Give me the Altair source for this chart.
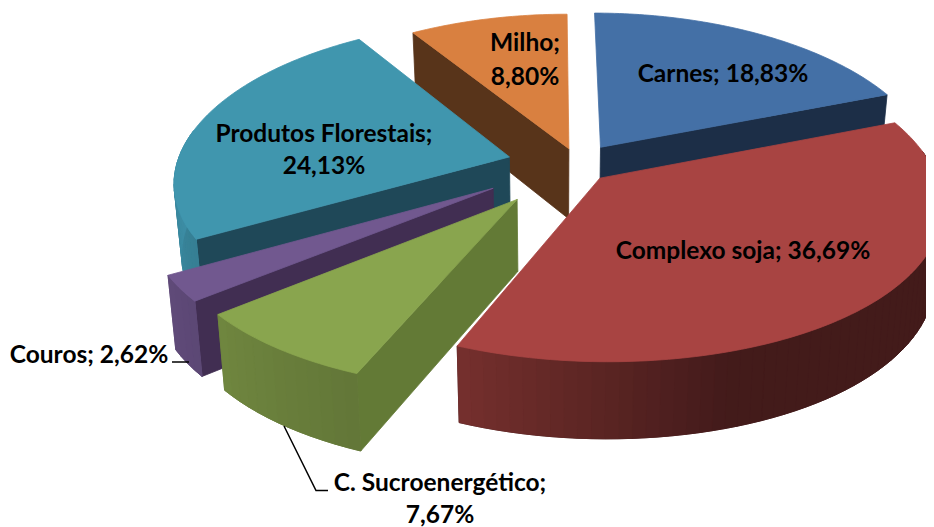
import math
import altair as alt

# ---- chart values ----
names = ["Carnes", "Complexo soja", "C. Sucroenergético", "Couros", "Produtos Florestais", "Milho"]
shares = [18.83, 36.69, 7.67, 2.62, 24.13, 8.80]
share_labels = ["18,83%", "36,69%", "7,67%", "2,62%", "24,13%", "8,80%"]
top_colors = ["#4470A6", "#A84442", "#89A54E", "#71588F", "#4096AE", "#D98040"]
radial_colors = ["#1C2E47", "#431B19", "#637A36", "#412E52", "#1F4858", "#58341A"]

# ---- 3D view of the pie ----
CX, CY = 547.0, 157.0      # vanishing centre in chart space
RX, RV = 333.0, 156.0      # horizontal / foreshortened radius
PERSP_X, PERSP_Y = 0.153, 0.13
DEPTH0, DEPTH1 = 70.6, 6.0
CONVERGE = 0.02
explode_x = [0.139, 0.133, -0.110, -0.1815, -0.138, 0.0424]
explode_f = [-0.115, 0.0835, 0.2146, 0.1463, -0.0523, -0.1055]
draw_order = [5, 0, 4, 3, 2, 1]


def rim(i, deg):
    t = math.radians(deg)
    return explode_x[i] + math.sin(t), explode_f[i] - math.cos(t)


def project(X, F):
    return [CX + RX * X / (1 - PERSP_X * F), CY + RV * F / (1 - PERSP_Y * F)]


def lower(X, F):
    x, y = project(X, F)
    return [x - (x - CX) * CONVERGE, y + DEPTH0 + DEPTH1 * F]


def shade(deg):
    if deg < 162:
        return 0.40
    if deg < 202:
        return 0.40 + (deg - 162) * 0.30 / 40
    return 0.72 + (deg - 202) * 0.23 / 68


def scaled(hex_color, f):
    rgb = [int(hex_color[j:j + 2], 16) for j in (1, 3, 5)]
    return "#%02x%02x%02x" % tuple(min(255, int(v * f)) for v in rgb)


def poly(points, color):
    ring = points + [points[0]]
    return {"type": "Feature", "properties": {"c": color},
            "geometry": {"type": "Polygon", "coordinates": [ring]}}


total = sum(shares)
starts, a = [], 0.0
for s in shares:
    starts.append(a)
    a += s / total * 360

features = []
for i in draw_order:
    t1 = starts[i]
    t2 = t1 + shares[i] / total * 360
    apex = (explode_x[i], explode_f[i])
    # radial wall facing the viewer
    wall = None
    if t1 >= 180:
        wall = t1
    elif t2 <= 180:
        wall = t2
    if wall is not None:
        R = rim(i, wall)
        features.append(poly([project(*apex), project(*R), lower(*R), lower(*apex)], radial_colors[i]))
    # outer wall: a base shape, then strips for the shading
    lo, hi = max(t1, 80), min(t2, 280)
    if hi > lo:
        n = max(2, int((hi - lo) / 2.0))
        angles = [lo + (hi - lo) * j / n for j in range(n + 1)]
        rims = [rim(i, v) for v in angles]
        base = [project(*r) for r in rims] + [lower(*r) for r in reversed(rims)]
        features.append(poly(base, scaled(top_colors[i], shade((lo + hi) / 2))))
        for j in range(n):
            P, Q = rims[j], rims[j + 1]
            features.append(poly([project(*P), project(*Q), lower(*Q), lower(*P)],
                                 scaled(top_colors[i], shade((angles[j] + angles[j + 1]) / 2))))
    # top face
    n = max(4, int((t2 - t1) / 1.0))
    arc = [project(*rim(i, t1 + (t2 - t1) * j / n)) for j in range(n + 1)]
    features.append(poly([project(*apex)] + arc, top_colors[i]))

proj = alt.Projection(type="identity", scale=1, translate=[0, 0])

pie = (
    alt.Chart(alt.Data(values=features))
    .mark_geoshape(strokeWidth=0.8)
    .encode(
        color=alt.Color("properties.c:N", scale=None, legend=None),
        stroke=alt.Stroke("properties.c:N", scale=None, legend=None),
    )
    .project(**proj.to_dict())
)

leaders = [
    {"type": "Feature", "properties": {},
     "geometry": {"type": "LineString", "coordinates": [[164, 354], [181, 354]]}},
    {"type": "Feature", "properties": {},
     "geometry": {"type": "LineString", "coordinates": [[276, 418], [308, 482.5], [320, 482.5]]}},
]
leader = (
    alt.Chart(alt.Data(values=leaders))
    .mark_geoshape(filled=False, stroke="#000000", strokeWidth=1.5)
    .project(**proj.to_dict())
)

label_rows = [
    {"t": names[5] + ";", "x": 517, "y": 36},
    {"t": share_labels[5], "x": 517, "y": 70},
    {"t": names[0] + "; " + share_labels[0], "x": 715, "y": 67},
    {"t": names[1] + "; " + share_labels[1], "x": 735, "y": 244},
    {"t": names[4] + ";", "x": 316, "y": 127},
    {"t": share_labels[4], "x": 316, "y": 159},
    {"t": names[3] + "; " + share_labels[3], "x": 81, "y": 348},
    {"t": names[2] + ";", "x": 432, "y": 476},
    {"t": share_labels[2], "x": 432, "y": 508},
]
labels = (
    alt.Chart(alt.Data(values=label_rows))
    .mark_text(font="Lato", fontWeight="bold", fontSize=24.5, color="#000000", align="center", baseline="middle")
    .encode(
        x=alt.X("x:Q", scale=None, axis=None),
        y=alt.Y("y:Q", scale=None, axis=None),
        text="t:N",
    )
)

chart = (
    alt.layer(pie, leader, labels)
    .properties(width=918, height=519, padding=0, background="#ffffff")
    .configure_view(stroke=None)
)
chart.save("out.html", embed_options={"renderer": "svg", "actions": False})
